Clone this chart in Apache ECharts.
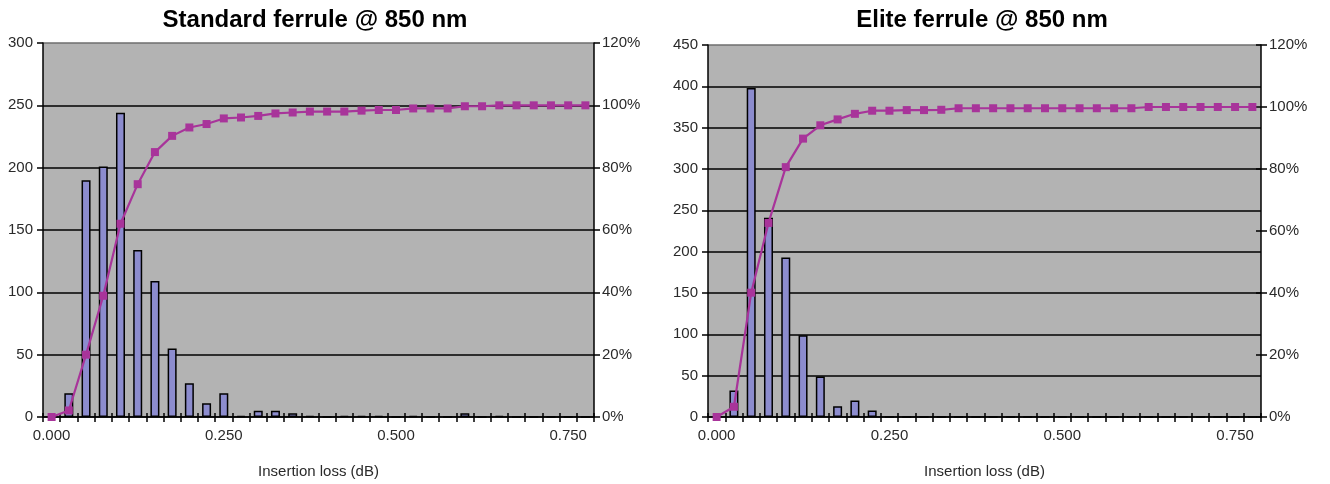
<!DOCTYPE html>
<html>
<head>
<meta charset="utf-8">
<title>Insertion loss distribution @ 850 nm</title>
<script src="https://cdn.jsdelivr.net/npm/echarts@6/dist/echarts.min.js"></script>
<style>
  html, body { margin: 0; padding: 0; background: #ffffff; }
  #chart { width: 1330px; height: 484px; }
</style>
</head>
<body>
<div id="chart"></div>
<script>
// Insertion loss bins (dB)
const bins = ['0.000','0.025','0.050','0.075','0.100','0.125','0.150','0.175',
              '0.200','0.225','0.250','0.275','0.300','0.325','0.350','0.375',
              '0.400','0.425','0.450','0.475','0.500','0.525','0.550','0.575',
              '0.600','0.625','0.650','0.675','0.700','0.725','0.750','0.775'];

// Standard ferrule: connector count per bin and cumulative share (%)
const standardCounts = [0, 19, 190, 201, 244, 134, 109, 55, 27, 11, 19, 1, 5, 5, 3, 1,
                        0, 1, 1, 1, 0, 1, 0, 0, 3, 0, 1, 0, 0, 0, 0, 0];
const standardCumulative = [0, 2.1, 20, 38.9, 62, 74.7, 85, 90.2, 92.9, 94, 95.8, 96.1, 96.6, 97.4, 97.7, 98,
                            98, 98, 98.3, 98.5, 98.5, 99, 99, 99, 99.7, 99.7, 100, 100, 100, 100, 100, 100];

// Elite ferrule: connector count per bin and cumulative share (%)
const eliteCounts = [0, 32, 398, 241, 193, 99, 49, 13, 20, 8, 0, 0, 0, 0, 0, 0,
                     0, 0, 0, 0, 0, 0, 0, 0, 0, 0, 0, 0, 0, 0, 0, 0];
const eliteCumulative = [0, 3.3, 40.1, 62.6, 80.6, 89.8, 94.1, 96, 97.8, 98.8, 98.8, 99, 99, 99.1, 99.6, 99.6,
                         99.6, 99.6, 99.6, 99.6, 99.6, 99.6, 99.6, 99.6, 99.6, 100, 100, 100, 100, 100, 100, 100];

const titles = ['Standard ferrule @ 850 nm', 'Elite ferrule @ 850 nm'];
const axisTitle = 'Insertion loss (dB)';

const FONT = "'Liberation Sans', Arial, Helvetica, sans-serif";
const LABEL = { fontFamily: FONT, fontSize: 15, color: '#2a2a2a' };
const PLOT_BG = '#b3b3b3';
const BAR_FILL = '#8c8cce';
const LINE = '#a8349a';

function countAxis(gridIndex, max, lines) {
  const colors = [];
  for (let i = 0; i < lines; i++) colors.push(i === lines - 1 ? '#6e6e6e' : '#000000');
  return {
    type: 'value', gridIndex, position: 'left', min: 0, max, interval: 50,
    axisLine: { show: true, lineStyle: { color: '#000', width: 1.5 } },
    axisTick: { show: true, length: 6, lineStyle: { color: '#000', width: 1.5 } },
    axisLabel: Object.assign({ margin: 10 }, LABEL),
    splitLine: { show: true, lineStyle: { color: colors, width: 1.5 } }
  };
}

function pctAxis(gridIndex) {
  return {
    type: 'value', gridIndex, position: 'right', min: 0, max: 120, interval: 20,
    axisLine: { show: true, lineStyle: { color: '#000', width: 1.5 } },
    axisTick: { show: true, length: 6, lineStyle: { color: '#000', width: 1.5 } },
    axisLabel: Object.assign({ margin: 8, formatter: '{value}%' }, LABEL),
    splitLine: { show: false }
  };
}

function binAxis(gridIndex) {
  return {
    type: 'category', gridIndex, data: bins, boundaryGap: true, position: 'bottom',
    name: axisTitle, nameLocation: 'middle', nameGap: 47,
    nameTextStyle: { fontFamily: FONT, fontSize: 15, color: '#2a2a2a' },
    axisLine: { show: true, lineStyle: { color: '#000', width: 1.5 } },
    axisTick: { show: true, interval: 0, length: 5, lineStyle: { color: '#000', width: 1.5 } },
    axisLabel: Object.assign({ interval: 9, margin: 11 }, LABEL),
    splitLine: { show: false }
  };
}

// Upper half of the crossing tick marks on the bin axis
function binTicksInside(gridIndex) {
  return {
    type: 'category', gridIndex, data: bins, boundaryGap: true, position: 'bottom',
    axisLine: { show: false },
    axisTick: { show: true, inside: true, interval: 0, length: 4, lineStyle: { color: '#000', width: 1.5 } },
    axisLabel: { show: false },
    splitLine: { show: false }
  };
}

function barSeries(xi, yi, data) {
  return {
    type: 'bar', xAxisIndex: xi, yAxisIndex: yi, data, barWidth: 9,
    itemStyle: { color: BAR_FILL, borderColor: '#000', borderWidth: 1.5 },
    emphasis: { disabled: true }, z: 2
  };
}

function lineSeries(xi, yi, data) {
  return {
    type: 'line', xAxisIndex: xi, yAxisIndex: yi, data,
    symbol: 'rect', symbolSize: 8, showSymbol: true,
    lineStyle: { color: LINE, width: 2.2 },
    itemStyle: { color: LINE },
    emphasis: { disabled: true }, z: 3
  };
}

const chart = echarts.init(document.getElementById('chart'), null, { renderer: 'canvas' });

chart.setOption({
  animation: false,
  backgroundColor: '#ffffff',
  title: [
    { text: titles[0], left: 315, top: 8, textAlign: 'center', padding: 0,
      textStyle: { fontFamily: FONT, fontSize: 24, fontWeight: 'bold', color: '#000' } },
    { text: titles[1], left: 982, top: 8, textAlign: 'center', padding: 0,
      textStyle: { fontFamily: FONT, fontSize: 24, fontWeight: 'bold', color: '#000' } }
  ],
  grid: [
    { left: 43, top: 43, width: 551, height: 380, show: true, backgroundColor: PLOT_BG, borderWidth: 0 },
    { left: 708, top: 45, width: 553, height: 378, show: true, backgroundColor: PLOT_BG, borderWidth: 0 }
  ],
  xAxis: [binAxis(0), binAxis(1), binTicksInside(0), binTicksInside(1)],
  yAxis: [
    countAxis(0, 300, 7),
    pctAxis(0),
    countAxis(1, 450, 10),
    pctAxis(1),
    // inner half of the crossing ticks on the elite percentage axis
    {
      type: 'value', gridIndex: 1, position: 'right', min: 0, max: 120, interval: 20,
      axisLine: { show: false },
      axisTick: { show: true, inside: true, length: 5, lineStyle: { color: '#000', width: 1.5 } },
      axisLabel: { show: false }, splitLine: { show: false }
    }
  ],
  series: [
    barSeries(0, 0, standardCounts),
    lineSeries(0, 1, standardCumulative),
    barSeries(1, 2, eliteCounts),
    lineSeries(1, 3, eliteCumulative)
  ]
});
</script>
</body>
</html>
